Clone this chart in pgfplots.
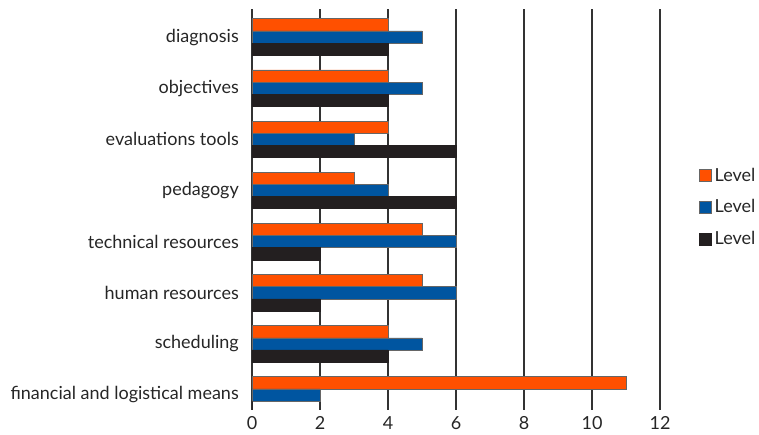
\documentclass[border=0pt]{standalone}
\usepackage{pgfplots}
\pgfplotsset{compat=1.18}
\usepackage{fontspec}
\setmainfont{Lato}

\definecolor{lvOrange}{HTML}{FF5000}
\definecolor{lvBlue}{HTML}{0055A0}
\definecolor{lvBlack}{HTML}{231F20}
\definecolor{gridDark}{HTML}{333333}

\begin{document}
\begin{tikzpicture}[x=1pt,y=1pt]
\useasboundingbox (-252pt,-25pt) rectangle (507pt,410pt);
\begin{axis}[
  scale only axis,
  width=408pt, height=401pt,
  at={(0pt,0pt)}, anchor=south west,
  xbar,
  bar width=12.2pt,
  xmin=0, xmax=12,
  ymin=-0.293, ymax=7.548,
  xtick={0,2,...,12},
  ytick={0,...,7},
  yticklabels={financial and logistical means, scheduling, human resources,
               technical resources, pedagogy, evaluations tools, objectives, diagnosis},
  axis line style={draw=none},
  major tick length=0pt,
  xmajorgrids,
  grid style={gridDark, line width=1.1pt},
  /pgf/number format/assume math mode=true,
  tick label style={font=\fontsize{18}{21}\selectfont, text=black!85},
  yticklabel style={inner sep=0pt, xshift=-13pt},
  xticklabel style={inner sep=0pt, yshift=-6pt},
  legend style={draw=none, fill=none, at={(1,0.506)}, anchor=west, xshift=39pt,
                inner sep=0pt, row sep=17pt,
                font=\fontsize{18}{21}\selectfont, text=black!85,
                nodes={inner sep=0pt}},
  legend cell align=left,
  legend image code/.code={\draw[#1, line width=0.5pt] (0pt,-6pt) rectangle (12pt,6pt);\path (15pt,0pt);},
]
% first series, orange, top bar of each group
\addplot[fill=lvOrange, draw=black!60, line width=0.5pt, bar shift=12.2pt] coordinates {
  (11,0) (4,1) (5,2) (5,3) (3,4) (4,5) (4,6) (4,7)};
\addlegendentry{Level}
% second series, blue, middle bar
\addplot[fill=lvBlue, draw=black!60, line width=0.5pt, bar shift=0pt] coordinates {
  (2,0) (5,1) (6,2) (6,3) (4,4) (3,5) (5,6) (5,7)};
\addlegendentry{Level}
% third series, black, bottom bar
\addplot[fill=lvBlack, draw=lvBlack, line width=0.5pt, bar shift=-12.2pt] coordinates {
  (0,0) (4,1) (2,2) (2,3) (6,4) (6,5) (4,6) (4,7)};
\addlegendentry{Level}
\end{axis}
\end{tikzpicture}
\end{document}
